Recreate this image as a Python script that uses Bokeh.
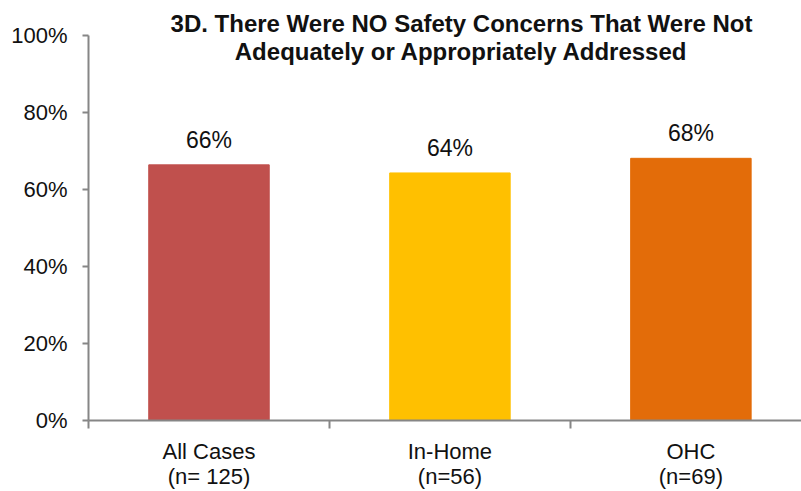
from bokeh.plotting import figure
from bokeh.models import Range1d, LinearAxis, FixedTicker, PrintfTickFormatter, ColumnDataSource
from bokeh.core.properties import value
from bokeh.embed import file_html
from bokeh.resources import INLINE

categories = ["All Cases\n(n= 125)", "In-Home\n(n=56)", "OHC\n(n=69)"]
values = [66.4, 64.3, 68.1]
colors = ["#C0504D", "#FFC000", "#E36C09"]
y_ticks = [0, 20, 40, 60, 80, 100]
title_lines = ["3D. There Were NO Safety Concerns That Were Not",
               "Adequately or Appropriately Addressed"]

xs = [i + 0.5 for i in range(len(categories))]
labels = ["%d%%" % round(v) for v in values]

p = figure(width=801, height=491, output_backend="svg", toolbar_location=None,
           x_range=Range1d(0, 2.959), y_range=Range1d(0, 109.09),
           x_axis_type=None, y_axis_type=None)
p.outline_line_color = None
p.xgrid.visible = False
p.ygrid.visible = False
p.min_border_left = 88
p.min_border_right = 0
p.min_border_top = 0
p.min_border_bottom = 71
p.background_fill_color = "white"
p.border_fill_color = "white"

src = ColumnDataSource(dict(x=xs, top=values, color=colors, label=labels))
p.vbar(x="x", top="top", width=0.5, bottom=0, color="color", source=src)
p.text(x="x", y="top", text="label", source=src, text_align="center",
       text_baseline="middle", y_offset=-25, text_font=value("Liberation Sans"),
       text_font_size="23px", text_color="#111111")

axis_color = "#868686"
yaxis = LinearAxis(ticker=FixedTicker(ticks=y_ticks), formatter=PrintfTickFormatter(format="%d%%"),
                   bounds=(0, 100))
yaxis.axis_line_color = axis_color
yaxis.axis_line_width = 2
yaxis.major_tick_line_color = axis_color
yaxis.major_tick_line_width = 2
yaxis.major_tick_out = 6
yaxis.major_tick_in = 0
yaxis.minor_tick_line_color = None
yaxis.major_label_text_font = "Liberation Sans"
yaxis.major_label_text_font_size = "22px"
yaxis.major_label_text_color = "#111111"
yaxis.major_label_standoff = 15
p.add_layout(yaxis, "left")

xaxis = LinearAxis(ticker=FixedTicker(ticks=xs, minor_ticks=list(range(len(categories) + 1))),
                   major_label_overrides={x: c for x, c in zip(xs, categories)})
xaxis.axis_line_color = axis_color
xaxis.axis_line_width = 2
xaxis.major_tick_line_color = None
xaxis.minor_tick_line_color = axis_color
xaxis.minor_tick_line_width = 2
xaxis.minor_tick_out = 8
xaxis.minor_tick_in = 0
xaxis.major_label_text_font = "Liberation Sans"
xaxis.major_label_text_font_size = "22px"
xaxis.major_label_text_color = "#111111"
xaxis.major_label_text_line_height = 1.0
xaxis.major_label_standoff = 10
p.add_layout(xaxis, "below")

p.text(x=[1.548, 1.548], y=[103.1, 95.8], text=title_lines, text_align="center",
       text_baseline="middle", text_font=value("Liberation Sans"), text_font_style="bold",
       text_font_size="24px", text_color="#111111")

open("out.html", "w").write(file_html(p, INLINE))
